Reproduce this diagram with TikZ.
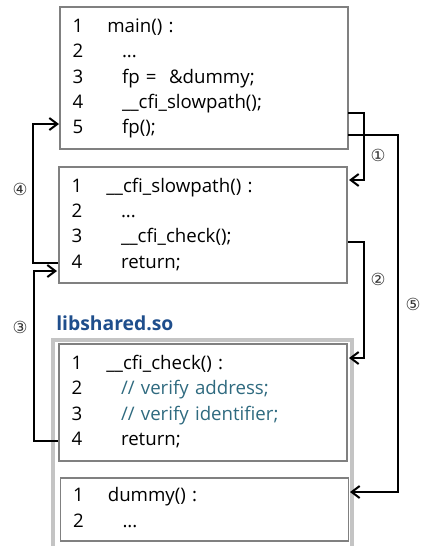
\documentclass[tikz,border=0pt]{standalone}
\usepackage{fontspec}
\setmainfont{Open Sans}
\newfontfamily\circfont{DejaVu Sans}
\usetikzlibrary{arrows.meta}
\definecolor{libblue}{RGB}{31,78,140}
\definecolor{commentcol}{RGB}{47,106,127}
\definecolor{boxgray}{RGB}{128,128,128}
\definecolor{outergray}{RGB}{196,196,196}
\newcommand{\cmt}[1]{\textcolor{commentcol}{#1}}
\newcommand{\ind}{\hspace{11pt}}
\tikzset{
  codebox/.style={draw=boxgray, line width=1.3pt, minimum width=216pt, inner xsep=9.5pt,
    text width=197pt, align=left, font=\fontsize{14pt}{19pt}\selectfont},
  flow/.style={line width=1.5pt, -{Straight Barb[length=6pt,width=9pt]}},
  stepno/.style={font=\circfont\fontsize{12.5pt}{13pt}\selectfont, text=black!80}
}
\begin{document}
\begin{tikzpicture}[x=0.75pt,y=-0.75pt]
      \useasboundingbox (0,0) rectangle (422,546);
      %Library frame
      \draw[outergray, line width=2.3pt] (53,547) -- (53,340) -- (352,340) -- (352,547);
      \node[anchor=west, inner sep=0pt, text=libblue, font=\bfseries\fontsize{14.5pt}{16pt}\selectfont] (lib) at (56,323) {libshared.so};
      %Code boxes
      \node[codebox, minimum height=106.5pt] (main) at (204,78) {\begin{tabular}{@{}p{26pt}@{}l@{}}
        1 & main() : \\
        2 & \ind ... \\
        3 & \ind fp = \ \&dummy; \\
        4 & \ind \_\_cfi\_slowpath(); \\
        5 & \ind fp(); \\
      \end{tabular}};
      \node[codebox, minimum height=87pt] (slow) at (203,225) {\begin{tabular}{@{}p{26pt}@{}l@{}}
        1 & \_\_cfi\_slowpath() : \\
        2 & \ind ... \\
        3 & \ind \_\_cfi\_check(); \\
        4 & \ind return; \\
      \end{tabular}};
      \node[codebox, minimum height=87.5pt] (check) at (203,402.5) {\begin{tabular}{@{}p{26pt}@{}l@{}}
        1 & \_\_cfi\_check() : \\
        2 & \ind \cmt{// verify address;} \\
        3 & \ind \cmt{// verify identifier;} \\
        4 & \ind return; \\
      \end{tabular}};
      \node[codebox, minimum height=47pt] (dummy) at (204.5,509.5) {\begin{tabular}{@{}p{26pt}@{}l@{}}
        1 & dummy() : \\
        2 & \ind ... \\
      \end{tabular}};
      %Flow 1
      \coordinate (s1) at (348,113);
      \coordinate (k1) at (364,180);
      \coordinate (e1) at (349,180);
      \draw[flow] (s1) -| (k1) -- (e1);
      \node[stepno] (n1) at (378,155) {①};
      %Flow 2
      \coordinate (s2) at (348,242);
      \coordinate (k2) at (364,358);
      \coordinate (e2) at (349,358);
      \draw[flow] (s2) -| (k2) -- (e2);
      \node[stepno] (n2) at (378,279) {②};
      %Flow 3
      \coordinate (s3) at (58,441);
      \coordinate (k3) at (34,271);
      \coordinate (e3) at (57,271);
      \draw[flow] (s3) -| (k3) -- (e3);
      \node[stepno] (n3) at (20,327) {③};
      %Flow 4
      \coordinate (s4) at (58,263);
      \coordinate (k4) at (33,124);
      \coordinate (e4) at (59,124);
      \draw[flow] (s4) -| (k4) -- (e4);
      \node[stepno] (n4) at (20,189) {④};
      %Flow 5
      \coordinate (s5) at (348,135);
      \coordinate (k5) at (398,492);
      \coordinate (e5) at (350,492);
      \draw[flow] (s5) -| (k5) -- (e5);
      \node[stepno] (n5) at (413,304) {⑤};
\end{tikzpicture}
\end{document}
